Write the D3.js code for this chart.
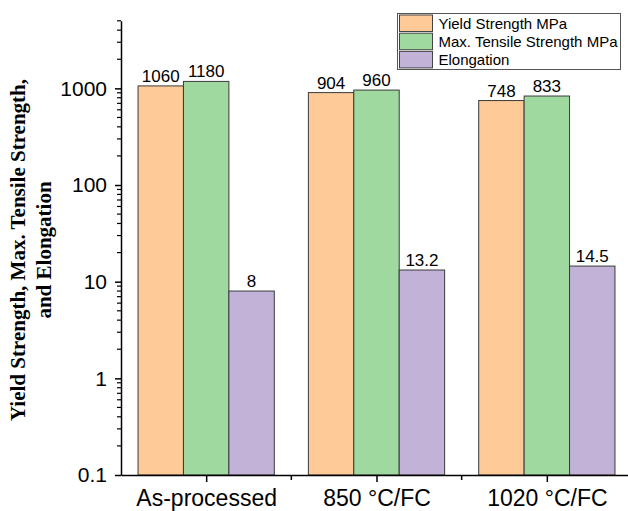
<!DOCTYPE html>
<html>
<head>
<meta charset="utf-8">
<script src="https://cdn.jsdelivr.net/npm/d3@7"></script>
<style>
  body { margin: 0; background: #fff; }
  svg { display: block; }
</style>
</head>
<body>
<div id="chart"></div>
<script>
const width = 628;
const height = 511;

// data
const categories = ['As-processed', '850 °C/FC', '1020 °C/FC'];
const seriesNames = ['Yield Strength MPa', 'Max. Tensile Strength MPa', 'Elongation'];
const yieldStrength = [1060, 904, 748];
const tensileStrength = [1180, 960, 833];
const elongation = [8, 13.2, 14.5];
const valueLabels = [['1060', '904', '748'], ['1180', '960', '833'], ['8', '13.2', '14.5']];
const yMajorTicks = [0.1, 1, 10, 100, 1000];
const yTickLabels = ['0.1', '1', '10', '100', '1000'];

const seriesColors = ['#fdca98', '#a0d9a0', '#c3b2d8'];
const seriesValues = [yieldStrength, tensileStrength, elongation];

const svg = d3.select('#chart')
    .append('svg')
    .attr('width', width)
    .attr('height', height);

const yScale = d3.scaleLog()
    .domain([0.1, 5000])
    .range([475, 20.8]);

const xScale = d3.scaleLinear()
    .domain([0.5, 3.5])
    .range([121, 632]);

const barW = 0.8 / 3;

// bars
for (let s = 0; s < seriesValues.length; s++) {
    const g = svg.append('g');
    g.selectAll('rect')
        .data(seriesValues[s])
        .enter()
        .append('rect')
        .attr('x', function(d, i){ return xScale(i + 1 + (s - 1.5) * barW); })
        .attr('width', xScale(barW) - xScale(0))
        .attr('y', function(d){ return yScale(d); })
        .attr('height', function(d){ return yScale(0.1) - yScale(d); })
        .attr('fill', seriesColors[s])
        .attr('stroke', '#3a3a3a')
        .attr('stroke-width', 1);

    g.selectAll('text')
        .data(seriesValues[s])
        .enter()
        .append('text')
        .attr('x', function(d, i){ return xScale(i + 1 + (s - 1) * barW); })
        .attr('y', function(d){ return yScale(d) - 4; })
        .attr('text-anchor', 'middle')
        .attr('font-family', 'Arial, "Liberation Sans", sans-serif')
        .attr('font-size', 17)
        .attr('fill', '#000')
        .text(function(d, i){ return valueLabels[s][i]; });
}

// y axis
const yMinor = [];
for (let e = -1; e <= 3; e++) {
    for (let m = 2; m <= 9; m++) {
        const v = m * Math.pow(10, e);
        if (v <= 5000) yMinor.push(v);
    }
}

const yAxis = svg.append('g')
    .attr('transform', 'translate(' + xScale(0.5) + ',0)')
    .call(d3.axisLeft(yScale)
        .tickValues(yMajorTicks)
        .tickFormat(function(d, i){ return yTickLabels[i]; })
        .tickSize(6)
        .tickPadding(8)
        .tickSizeOuter(0));
yAxis.select('.domain').attr('stroke', '#000').attr('stroke-width', 1.5);
yAxis.selectAll('.tick line').attr('stroke', '#000').attr('stroke-width', 1.5);
yAxis.selectAll('.tick text')
    .attr('font-family', 'Arial, "Liberation Sans", sans-serif')
    .attr('font-size', 21)
    .attr('fill', '#000');

svg.append('g')
    .selectAll('line')
    .data(yMinor)
    .enter()
    .append('line')
    .attr('x1', xScale(0.5))
    .attr('x2', xScale(0.5) - 4)
    .attr('y1', function(d){ return yScale(d); })
    .attr('y2', function(d){ return yScale(d); })
    .attr('stroke', '#000')
    .attr('stroke-width', 1.2);

// x axis
const xAxis = svg.append('g')
    .attr('transform', 'translate(0,' + yScale(0.1) + ')')
    .call(d3.axisBottom(xScale)
        .tickValues([1, 2, 3])
        .tickFormat(function(d){ return categories[d - 1]; })
        .tickSize(7)
        .tickPadding(8)
        .tickSizeOuter(0));
xAxis.select('.domain').attr('stroke', '#000').attr('stroke-width', 1.5);
xAxis.selectAll('.tick line').attr('stroke', '#000').attr('stroke-width', 1.5);
xAxis.selectAll('.tick text')
    .attr('font-family', 'Arial, "Liberation Sans", sans-serif')
    .attr('font-size', 23)
    .attr('fill', '#000');

svg.append('g')
    .selectAll('line')
    .data([1.5, 2.5])
    .enter()
    .append('line')
    .attr('x1', function(d){ return xScale(d); })
    .attr('x2', function(d){ return xScale(d); })
    .attr('y1', yScale(0.1))
    .attr('y2', yScale(0.1) + 5)
    .attr('stroke', '#000')
    .attr('stroke-width', 1.5);

// y title
const yTitle = svg.append('text')
    .attr('transform', 'translate(25,250) rotate(-90)')
    .attr('text-anchor', 'middle')
    .attr('font-family', '"Times New Roman", "Liberation Serif", serif')
    .attr('font-weight', 'bold')
    .attr('font-size', 21)
    .attr('fill', '#000');
yTitle.append('tspan').attr('x', 0).attr('dy', 0).text('Yield Strength, Max. Tensile Strength,');
yTitle.append('tspan').attr('x', 0).attr('dy', 26).text('and Elongation');

// legend
const legend = svg.append('g').attr('transform', 'translate(397.5,13.5)');
legend.append('rect')
    .attr('width', 223)
    .attr('height', 56)
    .attr('fill', '#fff')
    .attr('stroke', '#555')
    .attr('stroke-width', 1);

const rows = legend.selectAll('.legend_row')
    .data(seriesNames)
    .enter()
    .append('g')
    .attr('class', 'legend_row')
    .attr('transform', function(d, i){ return 'translate(2,' + (1.5 + i * 18.2) + ')'; });
rows.append('rect')
    .attr('width', 33)
    .attr('height', 16.5)
    .attr('fill', function(d, i){ return seriesColors[i]; })
    .attr('stroke', '#444')
    .attr('stroke-width', 1);
rows.append('text')
    .attr('x', 39)
    .attr('y', 13.5)
    .attr('font-family', 'Arial, "Liberation Sans", sans-serif')
    .attr('font-size', 15)
    .attr('fill', '#000')
    .text(function(d){ return d; });
</script>
</body>
</html>
